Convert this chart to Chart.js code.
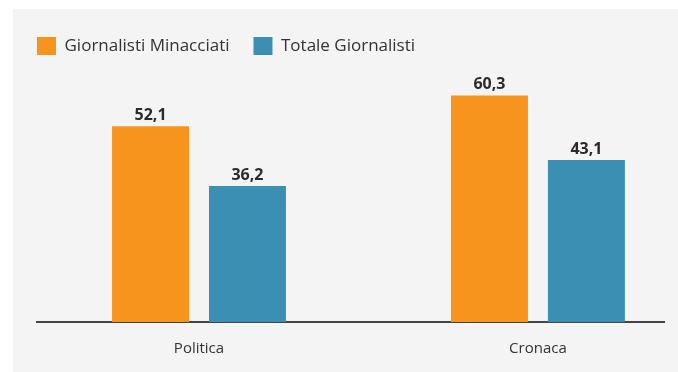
<!DOCTYPE html>
<html lang="it">
<head>
<meta charset="utf-8">
<title>Giornalisti minacciati per settore</title>
<script src="https://cdn.jsdelivr.net/npm/chart.js@4.4.1/dist/chart.umd.min.js"></script>
<style>
  html, body { margin: 0; padding: 0; background: #ffffff; }
  #wrap { position: relative; width: 678px; height: 372px; overflow: hidden; }
  #panel { position: absolute; left: 13px; top: 9px; right: 0; bottom: 0; background: #f4f4f4; }
  #chart { position: absolute; left: 0; top: 0; }
</style>
</head>
<body>
<div id="wrap">
  <div id="panel"></div>
  <canvas id="chart" width="678" height="372"></canvas>
</div>
<script>
// Settori e percentuali
const categories = ['Politica', 'Cronaca'];
const seriesNames = ['Giornalisti Minacciati', 'Totale Giornalisti'];
const minacciati = [52.1, 60.3];
const totale = [36.2, 43.1];

const ORANGE = '#f7941d';
const BLUE = '#3a8fb2';
const FONT = '"Open Sans", Lato, sans-serif';

// Ogni settore occupa la posizione i+1 sull'asse orizzontale
const toPoints = (values) => values.map((v, i) => ({ x: i + 1, y: v }));

const fmt = (v) => v.toLocaleString('it-IT', { minimumFractionDigits: 1, maximumFractionDigits: 1 });

// Etichette dei valori sopra le barre
const valueLabels = {
  id: 'valueLabels',
  afterDatasetsDraw(chart) {
    const { ctx } = chart;
    ctx.save();
    ctx.font = 'bold 16px ' + FONT;
    ctx.fillStyle = '#2b2b2b';
    ctx.textAlign = 'center';
    ctx.textBaseline = 'bottom';
    chart.data.datasets.forEach((ds, di) => {
      chart.getDatasetMeta(di).data.forEach((bar, i) => {
        ctx.fillText(fmt(ds.data[i].y), bar.x, bar.y - 3);
      });
    });
    ctx.restore();
  }
};

new Chart(document.getElementById('chart'), {
  type: 'bar',
  data: {
    datasets: [
      { label: seriesNames[0], data: toPoints(minacciati), backgroundColor: ORANGE },
      { label: seriesNames[1], data: toPoints(totale), backgroundColor: BLUE }
    ]
  },
  options: {
    responsive: false,
    animation: false,
    devicePixelRatio: 1,
    categoryPercentage: 0.572,
    barPercentage: 0.794,
    layout: { padding: { left: 13, right: 14, top: 13, bottom: 0 } },
    plugins: {
      legend: {
        display: true,
        position: 'top',
        align: 'start',
        labels: {
          boxWidth: 19,
          boxHeight: 18,
          padding: 24,
          color: '#333333',
          font: { family: FONT, size: 17 }
        }
      },
      tooltip: { enabled: false }
    },
    scales: {
      x: {
        type: 'linear',
        bounds: 'data',
        offset: false,
        min: 0.522,
        max: 2.372,
        afterFit: (axis) => { axis.height = 50; },
        grid: { display: false, drawTicks: false },
        border: { display: true, color: '#444444', width: 2 },
        afterBuildTicks: (axis) => { axis.ticks = categories.map((c, i) => ({ value: i + 1 })); },
        ticks: {
          autoSkip: false,
          maxRotation: 0,
          padding: 18,
          color: '#333333',
          font: { family: FONT, size: 15 },
          callback: (v) => categories[v - 1]
        }
      },
      y: {
        min: 0,
        max: 68.4,
        afterFit: (axis) => { axis.width = 24; },
        grid: { display: false, drawTicks: false },
        border: { display: false },
        ticks: { display: false }
      }
    }
  },
  plugins: [valueLabels]
});
</script>
</body>
</html>
